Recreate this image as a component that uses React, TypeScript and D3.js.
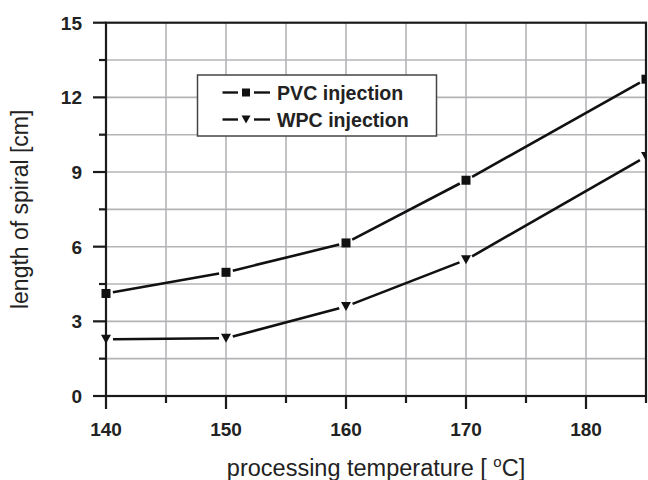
import React from "react";
import * as d3 from "d3";

// Processing temperature (°C) and measured spiral length (cm)
const temperatures = [140, 150, 160, 170, 185];
const pvcLength = [4.12, 4.97, 6.15, 8.67, 12.73];
const wpcLength = [2.28, 2.32, 3.6, 5.47, 9.62];

const xMajorTicks = [140, 150, 160, 170, 180];
const xMinorTicks = [145, 155, 165, 175, 185];
const yMajorTicks = [0, 3, 6, 9, 12, 15];
const yMinorTicks = [1.5, 4.5, 7.5, 10.5, 13.5];

const seriesNames = ["PVC injection", "WPC injection"];

const W = 648;
const H = 480;
const M = { left: 106, right: 2, top: 22.7, bottom: 84 };
const FONT = "'Liberation Sans', Arial, Helvetica, sans-serif";

const x = d3.scaleLinear().domain([140, 185]).range([M.left, W - M.right]);
const y = d3.scaleLinear().domain([0, 15]).range([H - M.bottom, M.top]);

const lineGen = d3.line<[number, number]>();

// Split a polyline into segments that stop short of each marker.
function gappedSegments(xs: number[], ys: number[], gap: number): string[] {
  const out: string[] = [];
  for (let i = 0; i < xs.length - 1; i++) {
    const x0 = x(xs[i]), y0 = y(ys[i]);
    const x1 = x(xs[i + 1]), y1 = y(ys[i + 1]);
    const len = Math.hypot(x1 - x0, y1 - y0);
    const ux = (x1 - x0) / len, uy = (y1 - y0) / len;
    out.push(
      lineGen([
        [x0 + ux * gap, y0 + uy * gap],
        [x1 - ux * gap, y1 - uy * gap],
      ]) as string
    );
  }
  return out;
}

function Square({ cx, cy, s }: { cx: number; cy: number; s: number }) {
  return <rect x={cx - s / 2} y={cy - s / 2} width={s} height={s} fill="#111" />;
}

function TriDown({ cx, cy, s }: { cx: number; cy: number; s: number }) {
  const h = s * 0.9;
  const p = `M${cx - s / 2},${cy - h / 2}L${cx + s / 2},${cy - h / 2}L${cx},${cy + h / 2}Z`;
  return <path d={p} fill="#111" />;
}

export default function App() {
  const x0 = M.left, x1 = W - M.right, yTop = M.top, yBot = H - M.bottom;
  const axisColor = "#1a1a1a";
  const gridColor = "#b4b4b8";
  const major = 13, minor = 7;

  const legendX = 197.5, legendY = 75, legendW = 239, legendH = 61;
  const rows = [92.5, 119.5];

  return (
    <svg
      width={W}
      height={H}
      style={{ position: "fixed", left: 0, top: 0, background: "#fff" }}
      fontFamily={FONT}
    >
      <defs>
        {/* markers are cut only at the right-hand edge of the frame */}
        <clipPath id="plotClip">
          <rect x={0} y={0} width={x1} height={H} />
        </clipPath>
      </defs>
      <rect width={W} height={H} fill="#fff" />

      {/* grid */}
      <g stroke={gridColor} strokeWidth={1.6}>
        {[...xMajorTicks, ...xMinorTicks].filter((t) => t > 140 && t < 185).map((t) => (
          <line key={"gx" + t} x1={x(t)} x2={x(t)} y1={yTop} y2={yBot} />
        ))}
        {[...yMajorTicks, ...yMinorTicks].filter((t) => t > 0 && t < 15).map((t) => (
          <line key={"gy" + t} x1={x0} x2={x1} y1={y(t)} y2={y(t)} />
        ))}
      </g>

      {/* frame */}
      <rect x={x0} y={yTop} width={x1 - x0} height={yBot - yTop} fill="none" stroke={axisColor} strokeWidth={2.2} />

      {/* data */}
      <g clipPath="url(#plotClip)">
        <g stroke="#111" strokeWidth={2.6} fill="none">
          {gappedSegments(temperatures, pvcLength, 7).map((d, i) => (
            <path key={"p" + i} d={d} />
          ))}
          {gappedSegments(temperatures, wpcLength, 7).map((d, i) => (
            <path key={"w" + i} d={d} />
          ))}
        </g>
        {temperatures.map((t, i) => (
          <Square key={"sq" + i} cx={x(t)} cy={y(pvcLength[i])} s={9} />
        ))}
        {temperatures.map((t, i) => (
          <TriDown key={"tr" + i} cx={x(t)} cy={y(wpcLength[i])} s={10} />
        ))}
      </g>

      {/* ticks */}
      <g stroke={axisColor} strokeWidth={2.2}>
        {xMajorTicks.map((t) => (
          <line key={"xt" + t} x1={x(t)} x2={x(t)} y1={yBot} y2={yBot + major} />
        ))}
        {xMinorTicks.map((t) => (
          <line key={"xm" + t} x1={x(t)} x2={x(t)} y1={yBot} y2={yBot + minor} />
        ))}
        {yMajorTicks.map((t) => (
          <line key={"yt" + t} x1={x0 - major} x2={x0} y1={y(t)} y2={y(t)} />
        ))}
        {yMinorTicks.map((t) => (
          <line key={"ym" + t} x1={x0 - minor} x2={x0} y1={y(t)} y2={y(t)} />
        ))}
      </g>

      {/* tick labels */}
      <g fontSize={19} fontWeight="bold" fill="#222">
        {xMajorTicks.map((t) => (
          <text key={"xl" + t} x={x(t)} y={436} textAnchor="middle">
            {t}
          </text>
        ))}
        {yMajorTicks.map((t) => (
          <text key={"yl" + t} x={82} y={y(t)} dy="0.36em" textAnchor="end">
            {t}
          </text>
        ))}
      </g>

      {/* axis titles */}
      <text x={376} y={476} textAnchor="middle" fontSize={23.5} fill="#222">
        processing temperature [ <tspan fontSize={15} dy={-9}>o</tspan>
        <tspan dy={9}>C]</tspan>
      </text>
      <text
        transform={`translate(28,${(yTop + yBot) / 2}) rotate(-90)`}
        textAnchor="middle"
        fontSize={23}
        fill="#222"
      >
        length of spiral [cm]
      </text>

      {/* legend */}
      <rect x={legendX} y={legendY} width={legendW} height={legendH} fill="#fff" stroke="#444" strokeWidth={1.5} />
      {rows.map((ry, i) => (
        <g key={"lg" + i}>
          <g stroke="#111" strokeWidth={2.4}>
            <line x1={222.5} x2={238} y1={ry} y2={ry} />
            <line x1={254} x2={270} y1={ry} y2={ry} />
          </g>
          {i === 0 ? <Square cx={246} cy={ry} s={8} /> : <TriDown cx={246} cy={ry} s={9} />}
          <text x={277} y={ry} dy="0.36em" fontSize={19.6} fontWeight="bold" fill="#222">
            {seriesNames[i]}
          </text>
        </g>
      ))}
    </svg>
  );
}
